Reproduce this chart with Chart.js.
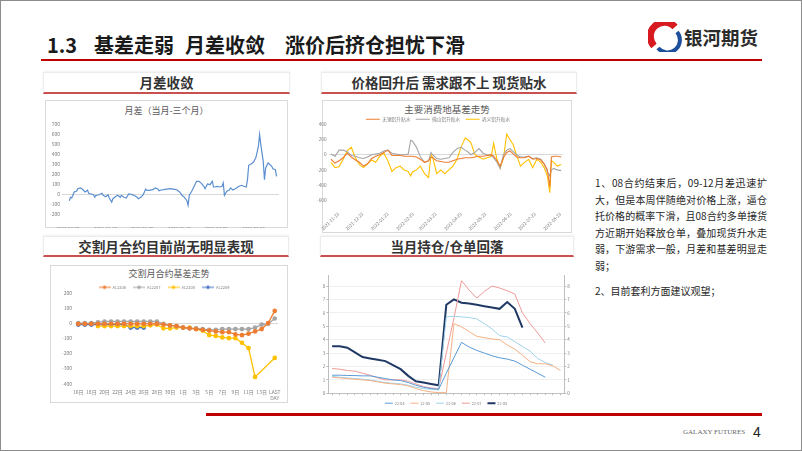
<!DOCTYPE html>
<html lang="zh-CN">
<head>
<meta charset="utf-8">
<title>1.3 基差走弱 月差收敛 涨价后挤仓担忧下滑</title>
<script src="https://cdn.jsdelivr.net/npm/chart.js@4.4.1/dist/chart.umd.min.js"></script>
<style>
  html, body { margin: 0; padding: 0; background: #fff; }
  body { position: relative; width: 802px; height: 451px; overflow: hidden; font-family: "Noto Sans CJK SC", "Noto Sans", sans-serif; }
  .frame { position: absolute; left: 0; top: 0; width: 800px; height: 449px; border: 1px solid #8c8c8c; }
  .head { position: absolute; top: 31px; font-size: 20px; font-weight: 700; color: #1a1a1a; line-height: 28px; white-space: nowrap; }
  .rule { position: absolute; background: #c00000; }
  .sub { position: absolute; box-sizing: border-box; border: 1px solid #ececec; border-bottom: 2px solid #c9504f; box-shadow: 0 -1px 2px rgba(0,0,0,.06); text-align: center; font-size: 13.5px; font-weight: 700; color: #333; white-space: nowrap; }
  .panel { position: absolute; box-sizing: border-box; border: 1px solid #d9d9d9; }
  .ctitle { position: absolute; text-align: center; color: #595959; white-space: nowrap; }
  canvas { position: absolute; }
  .note { position: absolute; left: 595px; top: 175px; width: 172px; font-size: 10px; line-height: 16.6px; color: #262626; }
  .note div { text-align: justify; text-align-last: justify; }
  .note div.last { text-align-last: left; }
</style>
</head>
<body>
<div class="frame"></div>

<div class="head" style="left:47px">1.3</div>
<div class="head" style="left:94px">基差走弱</div>
<div class="head" style="left:185px">月差收敛</div>
<div class="head" style="left:285px">涨价后挤仓担忧下滑</div>
<svg style="position:absolute;left:648px;top:22px" width="34" height="30" viewBox="0 0 34 30">
  <path d="M27 5 A13 13 0 0 0 6 24" stroke="#d71920" stroke-width="7" fill="none"/>
  <path d="M10 26 A12 12 0 0 0 29 10" stroke="#1d4f9c" stroke-width="4" fill="none"/>
</svg>
<div class="head" style="left:684px;top:23px;font-size:18.5px;color:#2b2b2b">银河期货</div>
<div class="rule" style="left:41px;top:59px;width:721px;height:2px"></div>

<div class="sub" style="left:43px;top:72px;width:247px;height:22px;line-height:19px">月差收敛</div>
<div class="sub" style="left:321px;top:72px;width:256px;height:22px;line-height:19px">价格回升后 需求跟不上 现货贴水</div>
<div class="sub" style="left:43px;top:236px;width:246px;height:21px;line-height:18px">交割月合约目前尚无明显表现</div>
<div class="sub" style="left:320px;top:236px;width:254px;height:21px;line-height:18px">当月持仓/仓单回落</div>

<div class="panel" style="left:45px;top:100px;width:243px;height:128px"></div>
<div class="ctitle" style="left:45px;top:104px;width:243px;font-size:9px;line-height:14px">月差（当月-三个月）</div>
<canvas id="spreadChart" width="243" height="128" style="left:45px;top:100px"></canvas>

<div class="panel" style="left:322px;top:100px;width:250px;height:133px"></div>
<div class="ctitle" style="left:322px;top:102px;width:250px;font-size:9.5px;line-height:15px">主要消费地基差走势</div>
<canvas id="basisChart" width="258" height="132" style="left:314px;top:100px"></canvas>

<div class="panel" style="left:50px;top:265px;width:238px;height:138px"></div>
<div class="ctitle" style="left:50px;top:267px;width:238px;font-size:9px;line-height:14px">交割月合约基差走势</div>
<canvas id="deliveryChart" width="238" height="138" style="left:50px;top:265px"></canvas>

<canvas id="oiChart" width="260" height="137" style="left:316px;top:268px"></canvas>

<div class="note">
  <div>1、08合约结束后，09-12月差迅速扩</div>
  <div>大，但是本周伴随绝对价格上涨，逼仓</div>
  <div>托价格的概率下滑，且08合约多单接货</div>
  <div>方近期开始释放仓单，叠加现货升水走</div>
  <div>弱，下游需求一般，月差和基差明显走</div>
  <div class="last">弱；</div>
  <div class="last" style="margin-top:8px">2、目前套利方面建议观望；</div>
</div>

<div class="rule" style="left:206px;top:413px;width:556px;height:3px"></div>
<div style="position:absolute;left:683px;top:426px;font-family:'Liberation Serif',serif;font-size:7px;color:#666;line-height:12px">GALAXY FUTURES</div>
<div style="position:absolute;left:753px;top:423px;font-family:'Liberation Sans',sans-serif;font-size:14px;color:#222;line-height:18px">4</div>

<script>
// 月差（当月-三个月）
const spreadTicks = ['2022-03-09', '2022-04-09', '2022-05-09', '2022-06-09', '2022-07-09', '2022-08-09']
const spreadDates = [
  '2022-03-10', '2022-03-11', '2022-03-12', '2022-03-13', '2022-03-14', '2022-03-16', '2022-03-17', '2022-03-19', '2022-03-21', '2022-03-23',
  '2022-03-24', '2022-03-25', '2022-03-26', '2022-03-28', '2022-03-30', '2022-03-31', '2022-04-01', '2022-04-03', '2022-04-06', '2022-04-07',
  '2022-04-09', '2022-04-11', '2022-04-12', '2022-04-14', '2022-04-15', '2022-04-17', '2022-04-19', '2022-04-21', '2022-04-22', '2022-04-24',
  '2022-04-26', '2022-04-28', '2022-05-01', '2022-05-03', '2022-05-05', '2022-05-06', '2022-05-08', '2022-05-10', '2022-05-12', '2022-05-13',
  '2022-05-15', '2022-05-18', '2022-05-20', '2022-05-22', '2022-05-23', '2022-05-25', '2022-05-28', '2022-06-01', '2022-06-05', '2022-06-07',
  '2022-06-09', '2022-06-11', '2022-06-13', '2022-06-15', '2022-06-16', '2022-06-17', '2022-06-19', '2022-06-21', '2022-06-23', '2022-06-25',
  '2022-06-27', '2022-06-29', '2022-06-30', '2022-07-02', '2022-07-04', '2022-07-06', '2022-07-07', '2022-07-08', '2022-07-10', '2022-07-12',
  '2022-07-14', '2022-07-15', '2022-07-16', '2022-07-18', '2022-07-20', '2022-07-21', '2022-07-23', '2022-07-25', '2022-07-28', '2022-07-30',
  '2022-08-01', '2022-08-03', '2022-08-04', '2022-08-05', '2022-08-07', '2022-08-09', '2022-08-11', '2022-08-13', '2022-08-14', '2022-08-15',
  '2022-08-17', '2022-08-18', '2022-08-19', '2022-08-21', '2022-08-22', '2022-08-24', '2022-08-25', '2022-08-27', '2022-08-28'
]
const spreadValues = [
  -67, -33, -40, -13, 20, 27, 53, 60, 47, 20,
  27, 40, 7, 0, -7, -33, -13, -10, 7, -13,
  -27, -7, -40, -80, -47, -27, -13, -33, -13, -33,
  -40, 0, -7, -17, -33, -47, -33, -7, 50, 37,
  37, 43, 60, 50, 33, 40, 47, 53, 47, 40,
  20, -13, -33, -67, -113, -13, 27, 77, 127, 127,
  107, 77, 53, 100, 93, 127, 70, 70, 77, 70,
  77, 110, -13, 27, 40, 60, 40, 53, 77, 87,
  77, 70, 143, 287, 300, 320, 367, 477, 593, 493,
  327, 143, 260, 310, 300, 277, 253, 243, 177
]

// 主要消费地基差走势
const basisTicks = ['2021-11-23', '2021-12-23', '2022-01-23', '2022-02-23', '2022-03-23', '2022-04-23', '2022-05-23', '2022-06-23', '2022-07-23', '2022-08-23']
const basisDates = [
  '2021-11-14', '2021-11-19', '2021-11-24', '2021-11-29', '2021-12-04', '2021-12-09', '2021-12-14', '2021-12-19', '2021-12-24', '2021-12-29',
  '2022-01-03', '2022-01-08', '2022-01-13', '2022-01-18', '2022-01-23', '2022-01-28', '2022-02-02', '2022-02-07', '2022-02-12', '2022-02-17',
  '2022-02-20', '2022-02-22', '2022-02-27', '2022-03-04', '2022-03-09', '2022-03-14', '2022-03-17', '2022-03-19', '2022-03-24', '2022-03-29',
  '2022-04-03', '2022-04-08', '2022-04-13', '2022-04-18', '2022-04-23', '2022-04-28', '2022-05-01', '2022-05-05', '2022-05-10', '2022-05-15',
  '2022-05-20', '2022-05-25', '2022-05-30', '2022-06-02', '2022-06-06', '2022-06-10', '2022-06-14', '2022-06-18', '2022-06-22', '2022-06-26',
  '2022-06-30', '2022-07-05', '2022-07-10', '2022-07-15', '2022-07-20', '2022-07-25', '2022-07-30', '2022-08-03', '2022-08-07', '2022-08-10',
  '2022-08-12', '2022-08-15', '2022-08-19', '2022-08-24'
]
const wuxiBasis = [
  -60, -110, -80, -40, 20, -30, -70, -100, -150, -120,
  -50, -20, 0, 30, 60, -10, -10, -10, -20, -20,
  -20, -20, -30, -60, -100, -80, -30, -40, -80, -90,
  -100, -100, -80, -60, -50, -40, -40, -40, -30, -20,
  -20, -10, 0, -20, -80, -150, -40, 30, 50, 10,
  -30, -40, -40, -20, -60, -50, -70, -120, -200, -420,
  -30, -20, -20, -30
]
const foshanBasis = [
  10, -20, 60, 60, 40, -10, -20, -40, -50, -30,
  0, 10, 20, 50, 60, 20, 10, 0, 0, 10,
  190, 180, 100, -30, -100, -80, 30, 0, -50, -60,
  -50, -40, 30, 80, 100, 60, 40, 0, 30, 80,
  20, 0, -10, -40, -100, -180, 0, 60, 80, 40,
  0, -30, -30, -20, -50, -40, -60, -120, -220, -280,
  -200, -180, -200, -210
]
const gongyiBasis = [
  -100, -170, -160, -60, 50, 100, -40, -130, -170, -120,
  -70, -100, -20, 20, -80, -220, -170, -150, -200, -220,
  -280, -230, -200, -150, -250, -300, 0, -30, -250, -200,
  -250, -200, -150, -60, 100, 220, 200, 160, 0, -30,
  -60, -40, -20, 150, -60, -180, -50, 270, 200, 130,
  0, -150, -100, -60, -170, -60, -100, -170, -280, -500,
  -80, -100, -150, -130
]

// 交割月合约基差走势
const deliveryDays = ['16日', '17日', '18日', '19日', '20日', '21日', '22日', '23日', '24日', '25日', '26日', '27日', '28日', '29日', '30日', '31日',
  '1日', '2日', '3日', '4日', '5日', '6日', '7日', '8日', '9日', '10日', '11日', '12日', '13日', '14日', ['LAST', 'DAY']]
const al2206 = [-5, -5, -5, -5, -5, -5, -5, -5, -5, -5, -5, -5, -5, -10, -15, -20, -30, -35, -40, -45, -50, -55, -60, -60, -75, -80, -70, -55, -40, 0, 80]
const al2207 = [0, 0, 0, 5, 10, 10, 10, 10, 10, 10, 10, 10, 10, -5, -15, -20, -30, -35, -35, -40, -45, -45, -40, -40, -40, -40, -40, -30, -10, -5, 30]
const al2208 = [null, null, null, -20, -20, -20, -20, -20, -20, -20, -20, -15, -10, -35, -35, -30, -30, -30, -40, -50, -80, -85, -95, -100, -100, -130, -165, -355, null, null, -230]
const al2209 = [-10, -10, -10, -10, -10, -10, -10, -10, -30, -30, -30]

// 当月持仓/仓单
const monthDays = ['1', '2', '3', '4', '5', '6', '7', '8', '9', '10', '11', '12', '13', '14', '15', '16',
  '17', '18', '19', '20', '21', '22', '23', '24', '25', '26', '27', '28', '29', '30', '31']
const oi2204 = [1.35, 1.35, 1.33, 1.32, 1.3, 1.3, 1.2, 1.1, 1.0, 0.95, 0.8, 0.6, 0.45, 0.35, 0.3, 1.5, 2.65, 3.8, 3.45, 3.2, 3.0, 2.8, 2.65, 2.55, 2.4, 2.1, 1.8, 1.5, 1.2]
const oi2205 = [1.2, 1.15, 1.1, 1.05, 1.0, 0.95, 0.85, 0.75, 0.7, 0.65, 0.55, 0.35, 0.2, 0.1, 0.05, 0.05, 5.2, 4.95, 4.6, 4.25, 4.15, 4.05, 4.0, 3.6, 3.3, 2.85, 2.35, 2.2, 2.2, 2.05, 1.7]
const oi2206 = [1.25, 1.2, 1.15, 1.1, 1.05, 1.0, 0.9, 0.8, 0.75, 0.7, 0.6, 0.45, 0.35, 0.3, 0.25, 5.7, 5.75, 5.7, 5.65, 5.55, 5.2, 4.8, 4.3, 4.2, 3.85, 3.5, 3.15, 2.6, 2.3, 2.1]
const oi2207 = [1.85, 1.8, 1.7, 1.65, 1.5, 1.35, 1.15, 1.0, 1.0, 1.0, 0.9, 0.7, 0.5, 0.4, 0.35, 3.0, 5.6, 8.4, 7.7, 7.1, 7.6, 8.0, 7.85, 7.65, 7.4, 6.0, 5.2, 4.5, 3.75]
const oi2208 = [3.5, 3.5, 3.4, 3.05, 2.7, 2.6, 2.5, 2.4, 2.1, 1.8, 1.3, 0.9, 0.8, 0.7, 0.6, 6.6, 7.0, 6.75, 6.7, 6.6, 6.5, 6.4, 6.3, 6.8, 6.3, 4.9]

Chart.defaults.font.family = '"Noto Sans CJK SC", "Noto Sans", sans-serif'
Chart.defaults.color = '#7f7f7f'

const dayOf = (d, base) => (Date.parse(d) - Date.parse(base)) / 864e5
const zeroLine = c => (c.tick && c.tick.value === 0 ? '#d9d9d9' : 'transparent')
const base = { responsive: false, animation: false, devicePixelRatio: 1 }

new Chart(document.getElementById('spreadChart'), {
  type: 'line',
  data: {
    datasets: [{
      label: '月差（当月-三个月）',
      data: spreadDates.map((d, i) => ({ x: dayOf(d, spreadTicks[0]), y: spreadValues[i] })),
      borderColor: '#5b8fd0', borderWidth: 1.2, pointRadius: 0, tension: 0
    }]
  },
  options: {
    ...base,
    layout: { padding: { top: 24, right: 9, left: 0, bottom: 0 } },
    plugins: { legend: { display: false }, tooltip: { enabled: false } },
    scales: {
      x: {
        type: 'linear', min: -5, max: 174,
        grid: { display: false }, border: { display: false },
        afterBuildTicks: s => { s.ticks = spreadTicks.map(d => ({ value: dayOf(d, spreadTicks[0]) })) },
        ticks: { autoSkip: false, maxRotation: 0, padding: 5, font: { size: 4.5 },
          callback: v => spreadTicks.find(d => dayOf(d, spreadTicks[0]) === v) || '' },
        afterFit: s => { s.height = 14 }
      },
      y: {
        min: -200, max: 700,
        ticks: { stepSize: 100, padding: 2, font: { size: 5 } },
        grid: { color: zeroLine, drawTicks: false }, border: { display: false },
        afterFit: s => { s.width = 17 }
      }
    }
  }
})

const basisSeries = [
  ['无锡铝升贴水', wuxiBasis, '#ed7d31'],
  ['佛山铝升贴水', foshanBasis, '#a5a5a5'],
  ['巩义铝升贴水', gongyiBasis, '#ffc000']
]
new Chart(document.getElementById('basisChart'), {
  type: 'line',
  data: {
    datasets: basisSeries.map(([label, vals, color]) => ({
      label,
      data: basisDates.map((d, i) => ({ x: dayOf(d, basisTicks[0]), y: vals[i] })),
      borderColor: color, backgroundColor: color, borderWidth: 1.1, pointRadius: 0, tension: 0
    }))
  },
  options: {
    ...base,
    layout: { padding: { top: 11.5, right: 10, left: 0, bottom: 0 } },
    plugins: {
      tooltip: { enabled: false },
      legend: {
        maxHeight: 12.8,
        labels: { usePointStyle: true, pointStyle: 'line', pointStyleWidth: 14, padding: 5.4, font: { size: 4.7 }, color: '#7f7f7f' }
      }
    },
    scales: {
      x: {
        type: 'linear', min: -12, max: 275,
        grid: { display: false }, border: { display: false },
        afterBuildTicks: s => { s.ticks = basisTicks.map(d => ({ value: dayOf(d, basisTicks[0]) })) },
        ticks: { autoSkip: false, minRotation: 45, maxRotation: 45, padding: 3, font: { size: 4.5 },
          callback: v => basisTicks.find(d => dayOf(d, basisTicks[0]) === v) || '' },
        afterFit: s => { s.height = 31.7 }
      },
      y: {
        min: -600, max: 400,
        ticks: { stepSize: 100, padding: 2, font: { size: 4.7 } },
        grid: { color: zeroLine, drawTicks: false }, border: { display: false },
        afterFit: s => { s.width = 14.5 }
      }
    }
  }
})

function legendMark(color) {
  const c = document.createElement('canvas')
  c.width = 12; c.height = 6
  const g = c.getContext('2d')
  g.strokeStyle = color; g.lineWidth = 1
  g.beginPath(); g.moveTo(0, 3); g.lineTo(12, 3); g.stroke()
  g.fillStyle = color
  g.beginPath(); g.arc(6, 3, 1.7, 0, Math.PI * 2); g.fill()
  return c
}
const deliverySeries = [
  ['AL2206', al2206, '#ed7d31'],
  ['AL2207', al2207, '#a5a5a5'],
  ['AL2208', al2208, '#ffc000'],
  ['AL2209', al2209, '#4472c4']
]
new Chart(document.getElementById('deliveryChart'), {
  type: 'line',
  data: {
    labels: deliveryDays,
    datasets: deliverySeries.map(([label, vals, color]) => ({
      label, data: vals, borderColor: color, backgroundColor: color,
      pointBackgroundColor: color, pointBorderColor: color, pointRadius: 1.7, borderWidth: 1.3,
      spanGaps: true, tension: 0
    }))
  },
  options: {
    ...base,
    layout: { padding: { top: 13.3, right: 10, left: 0, bottom: 0 } },
    plugins: {
      tooltip: { enabled: false },
      legend: {
        maxHeight: 14.4,
        labels: {
          usePointStyle: true, pointStyleWidth: 12, padding: 7, font: { size: 4 }, color: '#7f7f7f',
          generateLabels: chart => Chart.defaults.plugins.legend.labels.generateLabels(chart)
            .map(it => ({ ...it, pointStyle: legendMark(deliverySeries[it.datasetIndex][2]) }))
        }
      }
    },
    scales: {
      x: {
        offset: true,
        grid: { display: false, drawTicks: false }, border: { display: false },
        ticks: { autoSkip: false, maxRotation: 0, padding: 5.5, font: { size: 5 },
          callback: function (v, i) { return i % 2 ? '' : this.getLabelForValue(v) } },
        afterFit: s => { s.height = 19.3 }
      },
      y: {
        min: -400, max: 200,
        ticks: { stepSize: 100, padding: 3, font: { size: 5 } },
        grid: { color: zeroLine, drawTicks: false }, border: { display: false },
        afterFit: s => { s.width = 25 }
      }
    }
  }
})

const oiSeries = [
  ['22-04', oi2204, '#5b9bd5', 1],
  ['22-05', oi2205, '#f4b183', 1],
  ['22-06', oi2206, '#9fd3ea', 1],
  ['22-07', oi2207, '#ee9a98', 1],
  ['22-08', oi2208, '#1f3864', 2]
]
new Chart(document.getElementById('oiChart'), {
  type: 'line',
  data: {
    labels: monthDays,
    datasets: oiSeries.map(([label, vals, color, w]) => ({
      label, data: vals, borderColor: color, backgroundColor: color, borderWidth: w, pointRadius: 0, tension: 0
    }))
  },
  options: {
    ...base,
    layout: { padding: { top: 7.3, right: 0, left: 0, bottom: 0 } },
    plugins: {
      tooltip: { enabled: false },
      legend: {
        position: 'bottom', maxHeight: 9.7,
        labels: { usePointStyle: true, pointStyle: 'line', pointStyleWidth: 8, padding: 6, font: { size: 3.8 }, color: '#7f7f7f' }
      }
    },
    scales: {
      x: {
        offset: true,
        grid: { drawOnChartArea: false, drawTicks: true, tickLength: 2, color: '#bfbfbf' },
        border: { display: true, color: '#bfbfbf' },
        ticks: { autoSkip: false, maxRotation: 0, padding: 0, font: { size: 4.5 } },
        afterFit: s => { s.height = 2 }
      },
      y: {
        min: 0, max: 8.8,
        ticks: { stepSize: 1, includeBounds: false, padding: 1, font: { size: 4.5 } },
        grid: { color: '#f0f0f0', tickColor: '#bfbfbf', tickLength: 2 },
        border: { display: true, color: '#bfbfbf' },
        afterFit: s => { s.width = 12.3 }
      },
      y2: {
        position: 'right', min: 0, max: 8.8,
        ticks: { stepSize: 1, includeBounds: false, padding: 1, font: { size: 4.5 } },
        grid: { drawOnChartArea: false, tickColor: '#bfbfbf', tickLength: 2 },
        border: { display: true, color: '#bfbfbf' },
        afterFit: s => { s.width = 11.7 }
      }
    }
  }
})
</script>
</body>
</html>
